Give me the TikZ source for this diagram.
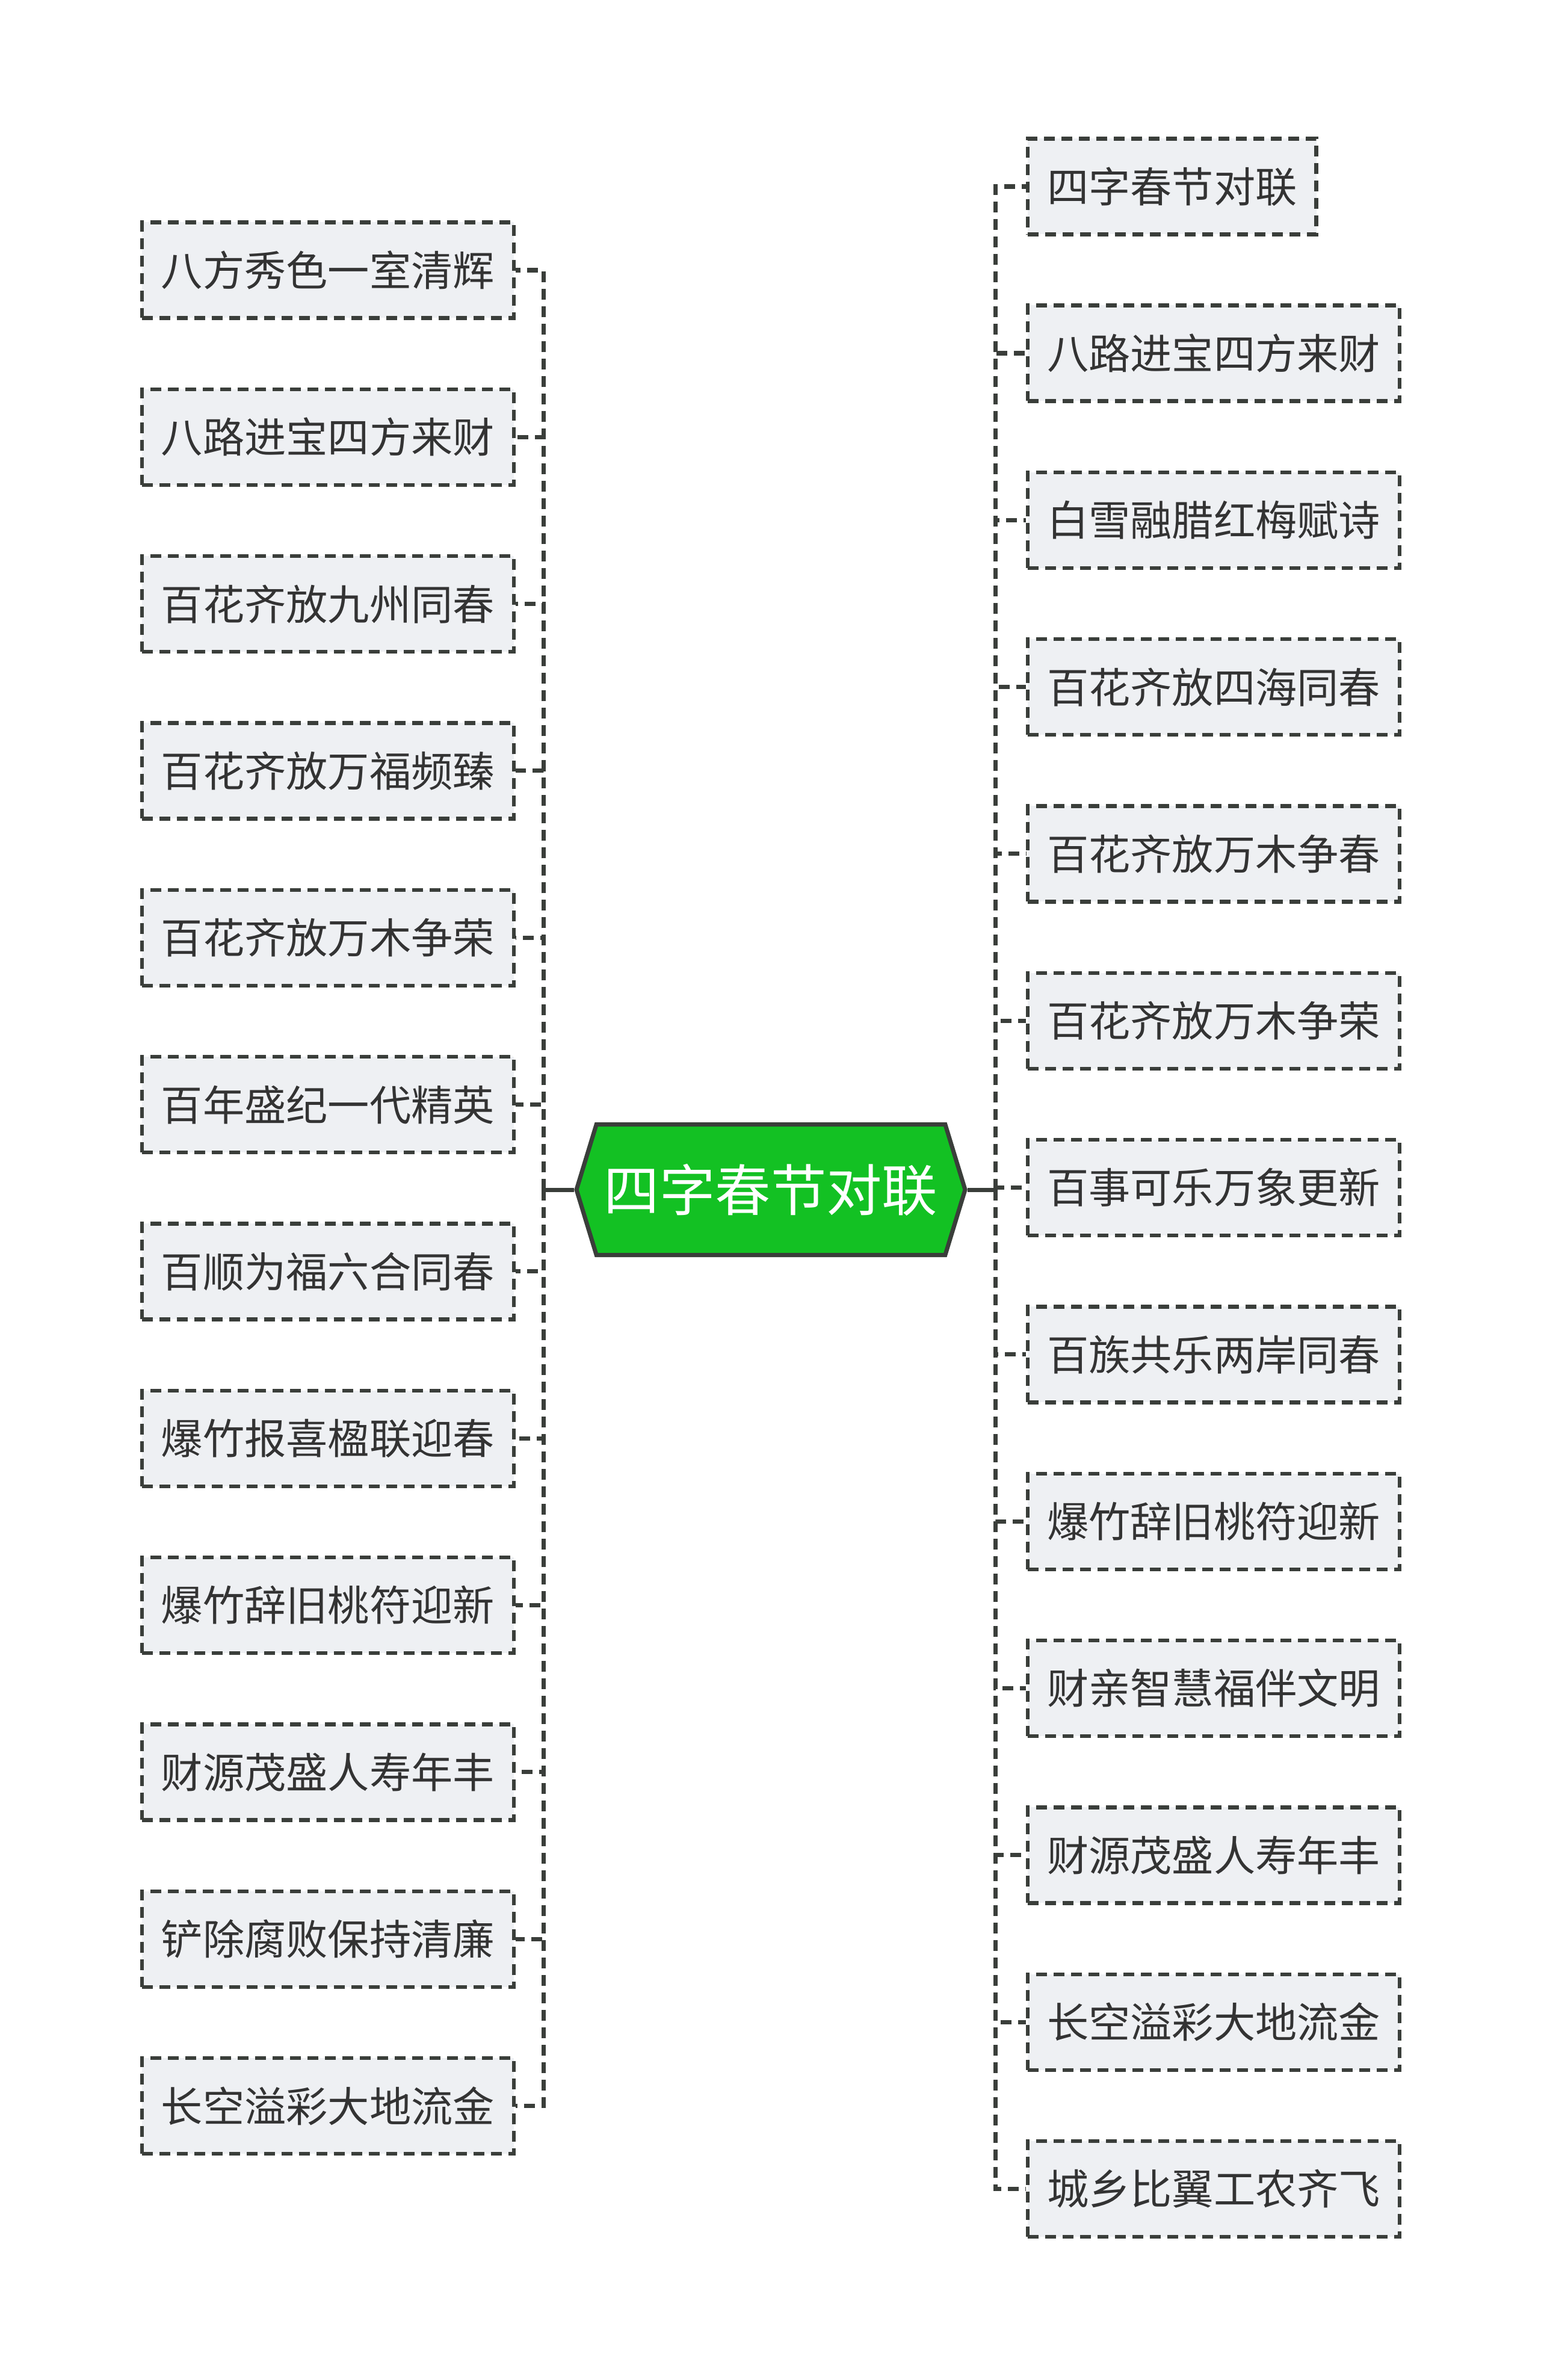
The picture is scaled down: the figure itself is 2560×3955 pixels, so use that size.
\documentclass[tikz,border=0pt]{standalone}
\usepackage{fontspec}
\newfontfamily\cjk{Noto Sans CJK SC}
\usetikzlibrary{positioning, shapes.symbols}

\definecolor{hubgreen}{HTML}{13C123}
\definecolor{linegray}{HTML}{3A3E3A}
\definecolor{leaffill}{HTML}{EEF0F3}
\definecolor{leaftext}{HTML}{333333}

\begin{document}
\begin{tikzpicture}[
  x=0.1mm, y=-0.1mm,
  hub/.style={signal, signal to=west and east, signal pointer angle=146,
    draw=linegray, line width=2pt, fill=hubgreen, text=white,
    minimum width=64.6mm, minimum height=21.7mm, inner xsep=1mm,
    font=\cjk\fontsize{26.3pt}{30pt}\selectfont},
  leaf/.style={rectangle, draw=linegray, dash pattern=on 1.8mm off 1.1mm,
    line width=1.8pt, fill=leaffill, text=leaftext,
    minimum height=15.9mm, inner xsep=3.2mm,
    font=\cjk\fontsize{19.7pt}{24pt}\selectfont},
  branch/.style={draw=linegray, line width=2pt, dash pattern=on 1.8mm off 1.1mm},
  stem/.style={draw=linegray, line width=2pt}
]
\useasboundingbox (0,0) rectangle (2560,3955);

\node[hub] (hub) at (1281,1977) {四字春节对联};

% left side
\node[leaf, anchor=east] (l1) at (857,449) {八方秀色一室清辉};
\node[leaf, below=11.2mm of l1] (l2) {八路进宝四方来财};
\node[leaf, below=11.2mm of l2] (l3) {百花齐放九州同春};
\node[leaf, below=11.2mm of l3] (l4) {百花齐放万福频臻};
\node[leaf, below=11.2mm of l4] (l5) {百花齐放万木争荣};
\node[leaf, below=11.2mm of l5] (l6) {百年盛纪一代精英};
\node[leaf, below=11.2mm of l6] (l7) {百顺为福六合同春};
\node[leaf, below=11.2mm of l7] (l8) {爆竹报喜楹联迎春};
\node[leaf, below=11.2mm of l8] (l9) {爆竹辞旧桃符迎新};
\node[leaf, below=11.2mm of l9] (l10) {财源茂盛人寿年丰};
\node[leaf, below=11.2mm of l10] (l11) {铲除腐败保持清廉};
\node[leaf, below=11.2mm of l11] (l12) {长空溢彩大地流金};

% right side
\node[leaf, anchor=west] (r1) at (1705,310) {四字春节对联};
\node[leaf, anchor=west] (r2) at (1705,587) {八路进宝四方来财};
\node[leaf, below=11.2mm of r2] (r3) {白雪融腊红梅赋诗};
\node[leaf, below=11.2mm of r3] (r4) {百花齐放四海同春};
\node[leaf, below=11.2mm of r4] (r5) {百花齐放万木争春};
\node[leaf, below=11.2mm of r5] (r6) {百花齐放万木争荣};
\node[leaf, below=11.2mm of r6] (r7) {百事可乐万象更新};
\node[leaf, below=11.2mm of r7] (r8) {百族共乐两岸同春};
\node[leaf, below=11.2mm of r8] (r9) {爆竹辞旧桃符迎新};
\node[leaf, below=11.2mm of r9] (r10) {财亲智慧福伴文明};
\node[leaf, below=11.2mm of r10] (r11) {财源茂盛人寿年丰};
\node[leaf, below=11.2mm of r11] (r12) {长空溢彩大地流金};
\node[leaf, below=11.2mm of r12] (r13) {城乡比翼工农齐飞};

\coordinate (lj) at (903,1977);
\coordinate (rj) at (1654,1977);
\draw[stem] (hub.west) -- (lj);
\draw[stem] (hub.east) -- (rj);

\draw[branch] (lj) |- (l1.east);
\draw[branch] (lj) |- (l2.east);
\draw[branch] (lj) |- (l3.east);
\draw[branch] (lj) |- (l4.east);
\draw[branch] (lj) |- (l5.east);
\draw[branch] (lj) |- (l6.east);
\draw[branch] (lj) |- (l7.east);
\draw[branch] (lj) |- (l8.east);
\draw[branch] (lj) |- (l9.east);
\draw[branch] (lj) |- (l10.east);
\draw[branch] (lj) |- (l11.east);
\draw[branch] (lj) |- (l12.east);

\draw[branch] (rj) |- (r1.west);
\draw[branch] (rj) |- (r2.west);
\draw[branch] (rj) |- (r3.west);
\draw[branch] (rj) |- (r4.west);
\draw[branch] (rj) |- (r5.west);
\draw[branch] (rj) |- (r6.west);
\draw[branch] (rj) |- (r7.west);
\draw[branch] (rj) |- (r8.west);
\draw[branch] (rj) |- (r9.west);
\draw[branch] (rj) |- (r10.west);
\draw[branch] (rj) |- (r11.west);
\draw[branch] (rj) |- (r12.west);
\draw[branch] (rj) |- (r13.west);
\end{tikzpicture}
\end{document}
